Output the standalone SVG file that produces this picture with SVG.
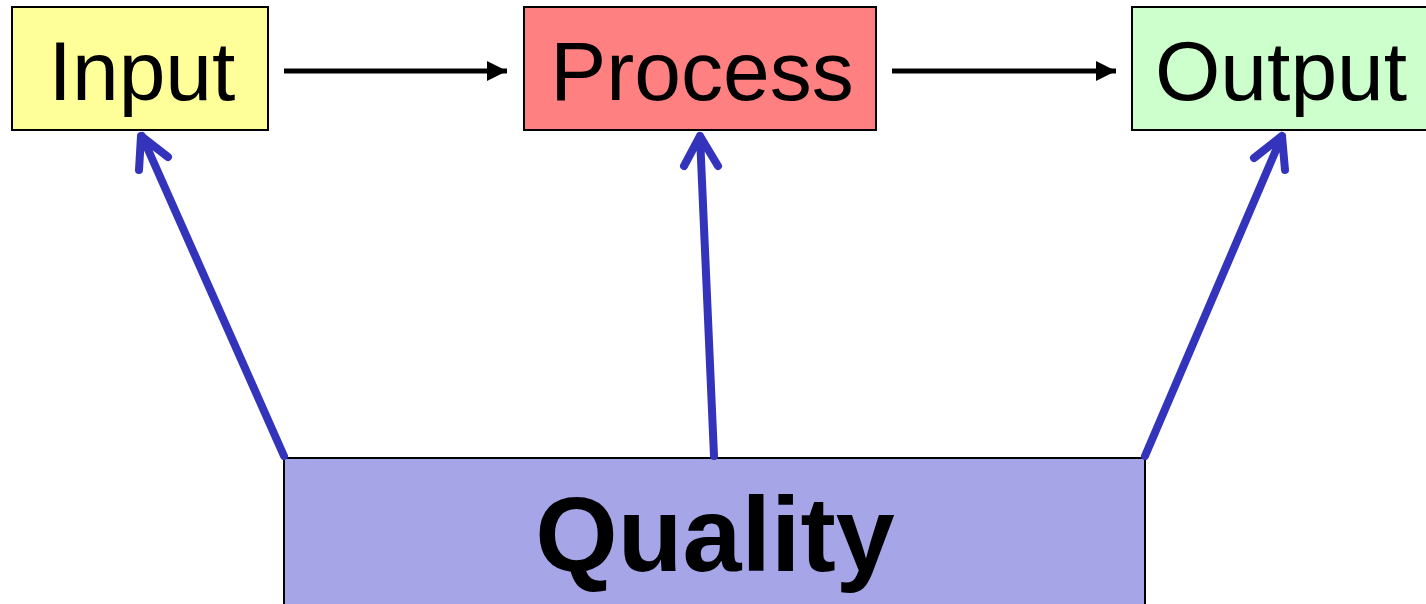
<svg xmlns="http://www.w3.org/2000/svg" width="1426" height="604" viewBox="0 0 1426 604">
  <defs>
    <style>
      .box { stroke: #000; stroke-width: 2; }
      .lbl { font-family: "Liberation Sans", Arial, sans-serif; font-size: 84px; fill: #000; }
      .big { font-family: "Liberation Sans", Arial, sans-serif; font-size: 106px; font-weight: bold; fill: #000; }
      .flow { stroke: #000; stroke-width: 5; fill: none; }
      .q { stroke: #3333bb; stroke-width: 8; fill: none; stroke-linecap: round; stroke-linejoin: round; }
    </style>
    <marker id="ah" markerWidth="4" markerHeight="4" refX="4" refY="2" orient="auto" markerUnits="strokeWidth">
      <path d="M0,0 L4,2 L0,4 Z" fill="#000"/>
    </marker>
  </defs>
  <rect width="1426" height="604" fill="#fff"/>
  <g id="input">
    <rect class="box" x="12" y="7" width="256" height="123" fill="#ffff99"/>
    <text class="lbl" x="142" y="100" text-anchor="middle">Input</text>
  </g>
  <g id="process">
    <rect class="box" x="524" y="7" width="352" height="123" fill="#ff8080"/>
    <text class="lbl" x="702" y="100" text-anchor="middle">Process</text>
  </g>
  <g id="output">
    <rect class="box" x="1132" y="7" width="300" height="123" fill="#ccffcc"/>
    <text class="lbl" x="1155" y="100">Output</text>
  </g>
  <g id="quality">
    <rect class="box" x="284" y="458" width="861" height="150" fill="#a5a5e8"/>
    <text class="big" x="715" y="571" text-anchor="middle">Quality</text>
  </g>
  <g id="connectors">
    <line class="flow" x1="284" y1="71" x2="507" y2="71" marker-end="url(#ah)"/>
    <line class="flow" x1="892" y1="71" x2="1116" y2="71" marker-end="url(#ah)"/>
    <path class="q" d="M284,456 L142,136 M139,170 L141,136 L168,157"/>
    <path class="q" d="M714,456 L700,136 M684,166 L700,136 L718,166"/>
    <path class="q" d="M1145,456 L1282,136 M1254,158 L1282,136 L1285,170"/>
  </g>
</svg>
